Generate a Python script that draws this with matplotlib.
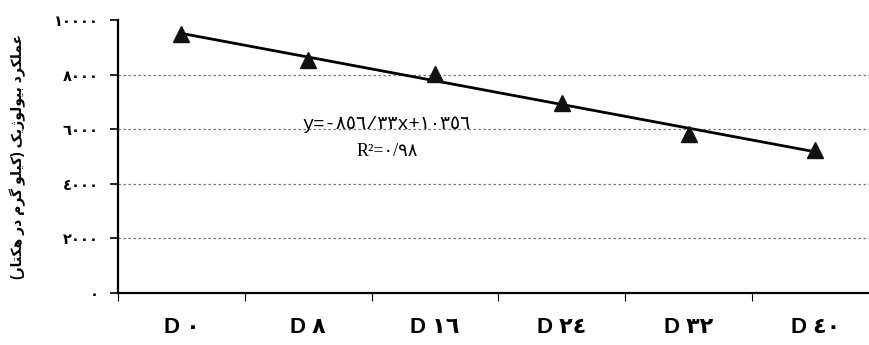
import matplotlib
matplotlib.use('Agg')
import matplotlib.pyplot as plt
import numpy as np

# ── Data ──────────────────────────────────────────────────────────────
categories = ['D \u0660', 'D \u0668', 'D \u0661\u0666', 'D \u0662\u0664',
              'D \u0663\u0662', 'D \u0664\u0660']
yield_vals = [9470, 8540, 8020, 6950, 5820, 5240]
y_ticks = [0, 2000, 4000, 6000, 8000, 10000]
y_tick_labels = ['\u0660', '\u0662\u0660\u0660\u0660', '\u0664\u0660\u0660\u0660',
                 '\u0666\u0660\u0660\u0660', '\u0668\u0660\u0660\u0660',
                 '\u0661\u0660\u0660\u0660\u0660']
eq_text = 'y=-\u0668\u0665\u0666/\u0663\u0663x+\u0661\u0660\u0663\u0665\u0666'
r2_text = 'R\u00b2=\u0660/\u0669\u0668'
y_label = 'عملکرد بیولوژیک (کیلو گرم در هکتار)'


# ── Minimal Arabic shaping (matplotlib has no bidi/shaping) ──────────
FORMS = {
    'ا': ('\uFE8D', '\uFE8E'),
    'ب': ('\uFE8F', '\uFE90', '\uFE91', '\uFE92'),
    'ت': ('\uFE95', '\uFE96', '\uFE97', '\uFE98'),
    'د': ('\uFEA9', '\uFEAA'),
    'ر': ('\uFEAD', '\uFEAE'),
    'ژ': ('\uFB8A', '\uFB8B'),
    'ع': ('\uFEC9', '\uFECA', '\uFECB', '\uFECC'),
    'ک': ('\uFB8E', '\uFB8F', '\uFB90', '\uFB91'),
    'گ': ('\uFB92', '\uFB93', '\uFB94', '\uFB95'),
    'ل': ('\uFEDD', '\uFEDE', '\uFEDF', '\uFEE0'),
    'م': ('\uFEE1', '\uFEE2', '\uFEE3', '\uFEE4'),
    'ه': ('\uFEE9', '\uFEEA', '\uFEEB', '\uFEEC'),
    'و': ('\uFEED', '\uFEEE'),
    'ی': ('\uFBFC', '\uFBFD', '\uFBFE', '\uFBFF'),
}


def shape(text):
    out = []
    for i, ch in enumerate(text):
        if ch not in FORMS:
            out.append(ch)
            continue
        prev = text[i - 1] if i > 0 else ''
        nxt = text[i + 1] if i + 1 < len(text) else ''
        j_prev = prev in FORMS and len(FORMS[prev]) == 4
        j_next = len(FORMS[ch]) == 4 and nxt in FORMS
        f = FORMS[ch]
        if j_prev and j_next:
            out.append(f[3])
        elif j_prev:
            out.append(f[1])
        elif j_next:
            out.append(f[2])
        else:
            out.append(f[0])
    vis = ''.join(reversed(out))
    return vis.translate(str.maketrans('()', ')('))


plt.rcParams['font.family'] = ['Liberation Sans', 'DejaVu Sans']

fig = plt.figure(figsize=(8.7, 3.45), dpi=100)
ax = fig.add_axes([0.1356, 0.1507, 0.8644, 0.7913])

x = np.arange(len(categories))
coef = np.polyfit(x, yield_vals, 1)
ax.plot(x, np.polyval(coef, x), color='black', linewidth=2.0, zorder=3)
ax.plot(x, yield_vals, linestyle='none', marker='^', markersize=11,
        color='#111111', zorder=4)

ax.set_xlim(-0.5, 5.43)
ax.set_ylim(0, 10000)

# y axis
ax.set_yticks(y_ticks)
ax.set_yticklabels(y_tick_labels, fontsize=10.5, fontweight='bold',
                   family=['DejaVu Sans'])
ax.tick_params(axis='y', direction='out', length=6, width=1.2, pad=8)
for v in y_ticks[1:-1]:
    ax.axhline(v, color='#777777', linestyle=(0, (2, 2)), linewidth=0.9,
               zorder=1)

# x axis: tick marks on category boundaries, labels on centres
ax.set_xticks(np.arange(-0.5, 5.5, 1.0))
ax.set_xticklabels([])
ax.tick_params(axis='x', which='major', direction='out', length=6,
               width=0.8)
ax.set_xticks(x, minor=True)
ax.set_xticklabels(categories, minor=True, fontsize=16, fontweight='bold')
ax.tick_params(axis='x', which='minor', length=0, pad=17)

for side in ('top', 'right'):
    ax.spines[side].set_visible(False)
ax.spines['left'].set_linewidth(1.6)
ax.spines['bottom'].set_linewidth(1.6)

ax.set_ylabel(shape(y_label), fontsize=10, fontweight='bold')
ax.yaxis.set_label_coords(-0.122, 0.5)

ax.text(1.62, 6165, eq_text, ha='center', va='center', fontsize=13.5,
        family=['Liberation Mono', 'DejaVu Sans'], color='black')
ax.text(1.62, 5174, r2_text, ha='center', va='center', fontsize=13,
        family=['Liberation Serif', 'DejaVu Sans'], color='black')

fig.savefig('out.png', dpi=100)
